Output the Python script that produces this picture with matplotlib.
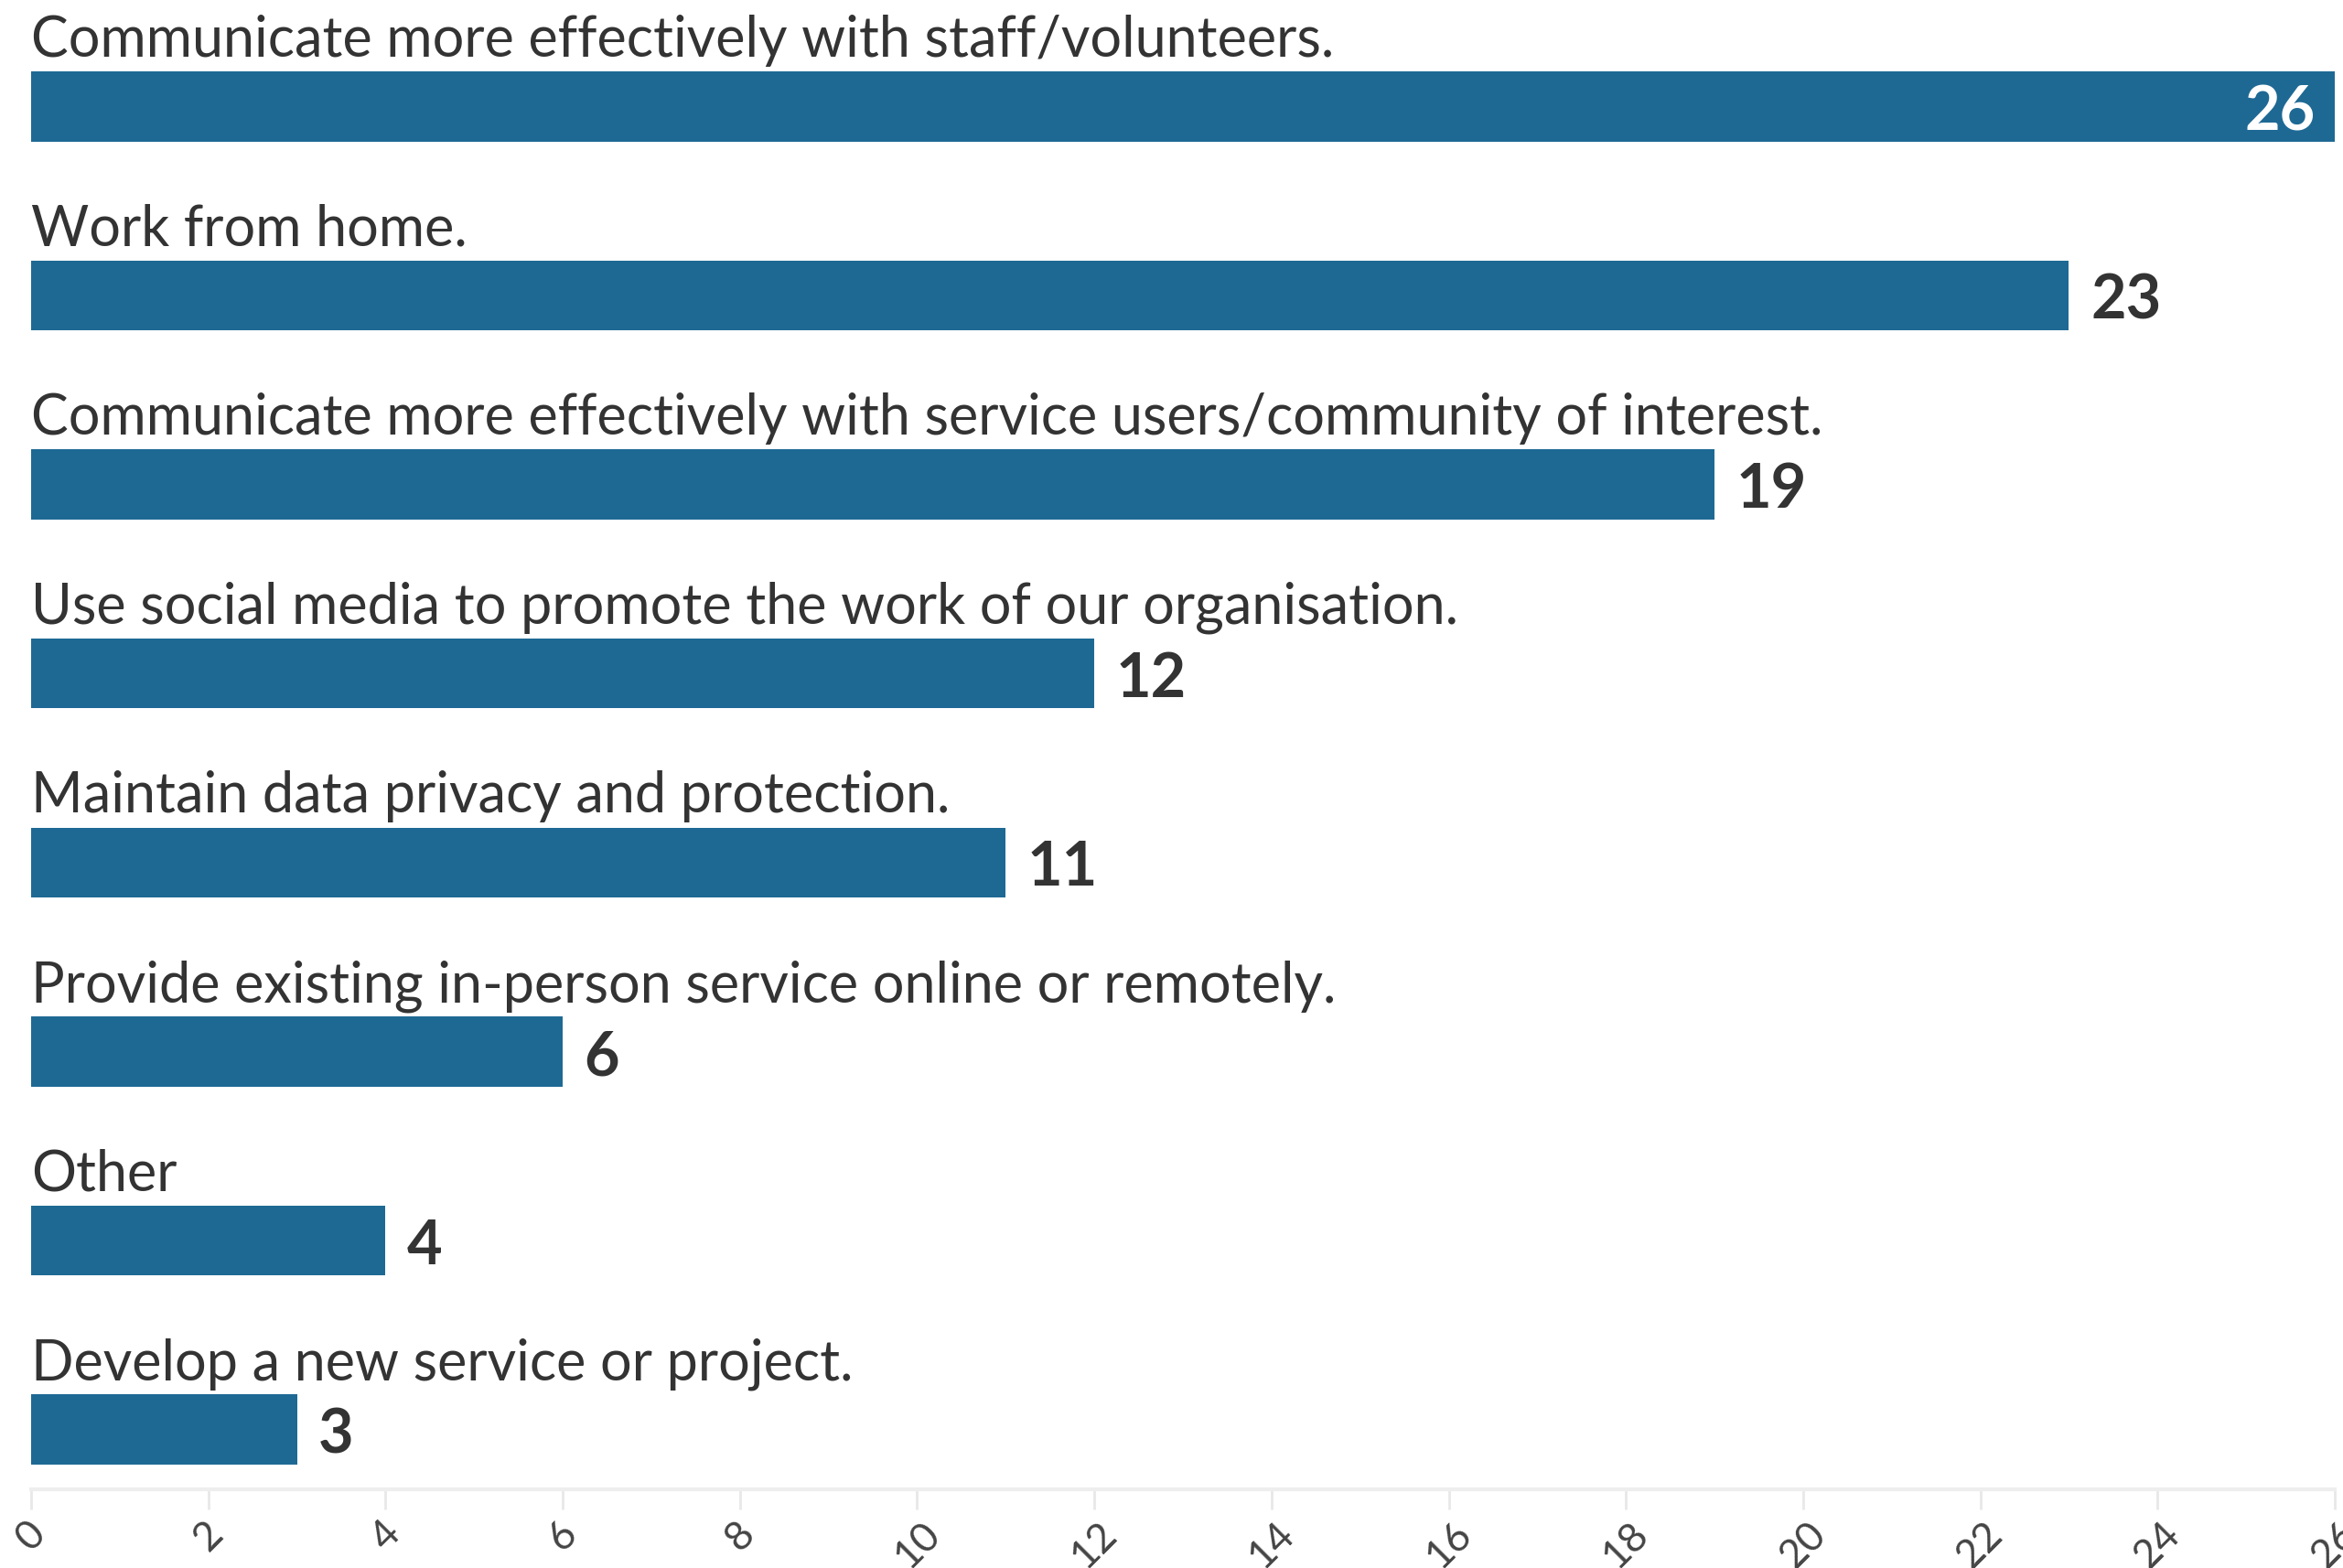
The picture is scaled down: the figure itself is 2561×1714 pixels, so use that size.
import matplotlib
matplotlib.use("Agg")
import matplotlib.pyplot as plt

categories = [
    "Communicate more effectively with staff/volunteers.",
    "Work from home.",
    "Communicate more effectively with service users/community of interest.",
    "Use social media to promote the work of our organisation.",
    "Maintain data privacy and protection.",
    "Provide existing in-person service online or remotely.",
    "Other",
    "Develop a new service or project.",
]
counts = [26, 23, 19, 12, 11, 6, 4, 3]
tick_values = list(range(0, 27, 2))

BAR_COLOR = "#1e6994"
TEXT_COLOR = "#333333"
FONT = "Lato"
LABEL_SIZE = 44
VALUE_SIZE = 48
BAR_HEIGHT = 0.37

W, H, DPI = 2561, 1714, 100
fig = plt.figure(figsize=(W / DPI, H / DPI), dpi=DPI)
ax = fig.add_axes([34 / W, 86 / H, (2552 - 34) / W, (1714 - 86) / H])

ypos = list(range(len(categories)))
ax.barh(ypos, counts, height=BAR_HEIGHT, color=BAR_COLOR, zorder=2)

xmax = tick_values[-1]
# digits sit on a baseline just below the bar centre so they look centred
baseline_drop = -18.5
for y, name, v in zip(ypos, categories, counts):
    ax.text(0.0, y - BAR_HEIGHT / 2 - 0.078, name, ha="left", va="baseline",
            fontsize=LABEL_SIZE, family=FONT, color=TEXT_COLOR)
    if v >= xmax - 1:
        ax.annotate(str(v), (v, y), xytext=(-15, baseline_drop),
                    textcoords="offset points", ha="right", va="baseline",
                    fontsize=VALUE_SIZE, family=FONT, fontweight="bold",
                    color="white")
    else:
        ax.annotate(str(v), (v, y), xytext=(17, baseline_drop),
                    textcoords="offset points", ha="left", va="baseline",
                    fontsize=VALUE_SIZE, family=FONT, fontweight="bold",
                    color=TEXT_COLOR)

ax.set_xlim(0, xmax)
ax.set_ylim(7.317, -0.564)
ax.set_yticks([])
ax.set_xticks(tick_values)
ax.set_xticklabels([str(t) for t in tick_values], rotation=45, ha="center",
                   fontsize=32, family=FONT, color="#444444")
ax.tick_params(axis="x", length=16, width=2, color="#e8e8e8", pad=4)
for side in ("top", "right", "left"):
    ax.spines[side].set_visible(False)
ax.spines["bottom"].set_color("#eeeeee")
ax.spines["bottom"].set_linewidth(3)
ax.set_facecolor("white")

fig.savefig("out.png", dpi=DPI, facecolor="white")
